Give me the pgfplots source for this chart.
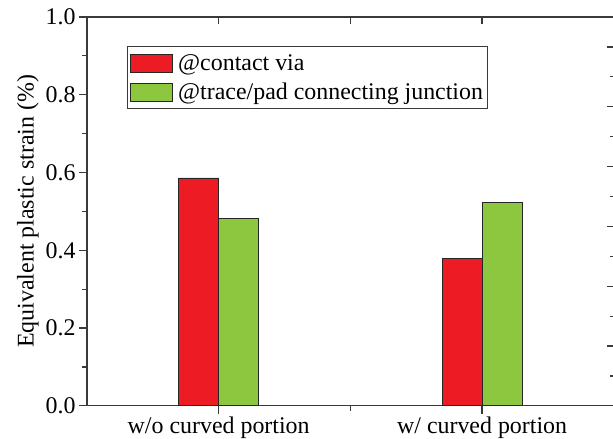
\documentclass[border=0pt]{standalone}
\usepackage{fontspec}
\setmainfont{Liberation Serif}
\usepackage{pgfplots}
\pgfplotsset{compat=1.18}

\definecolor{cred}{HTML}{ED1C24}
\definecolor{cgreen}{HTML}{8DC63F}
\definecolor{axisgray}{HTML}{3A3A3A}

\newcommand{\labfont}{\fontsize{24}{28}\selectfont}

\begin{document}
\begin{tikzpicture}
% main axis: left and bottom spines with labels, outward ticks
\begin{axis}[
  name=main,
  scale only axis, width=527bp, height=389bp,
  xmin=0.5, xmax=2.5, ymin=0, ymax=1,
  axis x line*=bottom, axis y line*=left,
  axis line style={line width=1.2bp, color=axisgray, -},
  tick align=outside,
  major tick length=8bp, minor tick length=5bp,
  every tick/.style={line width=1.2bp, color=axisgray},
  xtick={1,2}, xticklabels={w/o curved portion, w/ curved portion},
  minor xtick={1.5},
  ytick={0,0.2,0.4,0.6,0.8,1.0},
  minor ytick={0.1,0.3,0.5,0.7,0.9},
  /pgf/number format/assume math mode=true,
  yticklabel style={/pgf/number format/fixed, /pgf/number format/fixed zerofill, /pgf/number format/precision=1},
  tick label style={font=\labfont},
  ylabel={Equivalent plastic strain (\%)},
  ylabel style={font=\labfont, at={(axis description cs:-0.112,0.5)}, anchor=center},
  ybar=0pt, bar width=0.152,
  legend style={at={(axis description cs:0.0759,0.9254)}, anchor=north west,
    draw=axisgray, line width=1bp, font=\labfont, inner xsep=3bp, inner ysep=6bp,
    row sep=7bp, column sep=3bp},
  legend cell align=left,
]
\addplot[fill=cred, draw=black!85, line width=0.8bp,
  legend image code/.code={\draw[fill=cred, draw=black!85, line width=0.8bp] (0bp,-9bp) rectangle (42bp,9bp);}]
  coordinates {(1,0.586) (2,0.378)};
\addplot[fill=cgreen, draw=black!85, line width=0.8bp,
  legend image code/.code={\draw[fill=cgreen, draw=black!85, line width=0.8bp] (0bp,-9bp) rectangle (42bp,9bp);}]
  coordinates {(1,0.481) (2,0.524)};
\legend{@contact via, @trace/pad connecting junction}
\end{axis}
% opposite spines: top and right, inward ticks, no labels
\begin{axis}[
  at={(main.south west)}, anchor=south west,
  scale only axis, width=527bp, height=389bp,
  xmin=0.5, xmax=2.5, ymin=0, ymax=6.5,
  axis x line*=top, axis y line*=right,
  axis line style={line width=1.2bp, color=axisgray, -},
  tick align=inside,
  major tick length=7bp, minor tick length=4bp,
  every tick/.style={line width=1.2bp, color=axisgray},
  xtick={1,1.5,2}, xticklabels={},
  ytick={0,1,2,3,4,5,6}, yticklabels={},
  minor ytick={0.5,1.5,2.5,3.5,4.5,5.5,6.5},
]
\end{axis}
\pgfresetboundingbox
\path[use as bounding box] ([shift={(-87bp,-33bp)}]main.south west) rectangle ([shift={(-0.8bp,17bp)}]main.north east);
\end{tikzpicture}
\end{document}
